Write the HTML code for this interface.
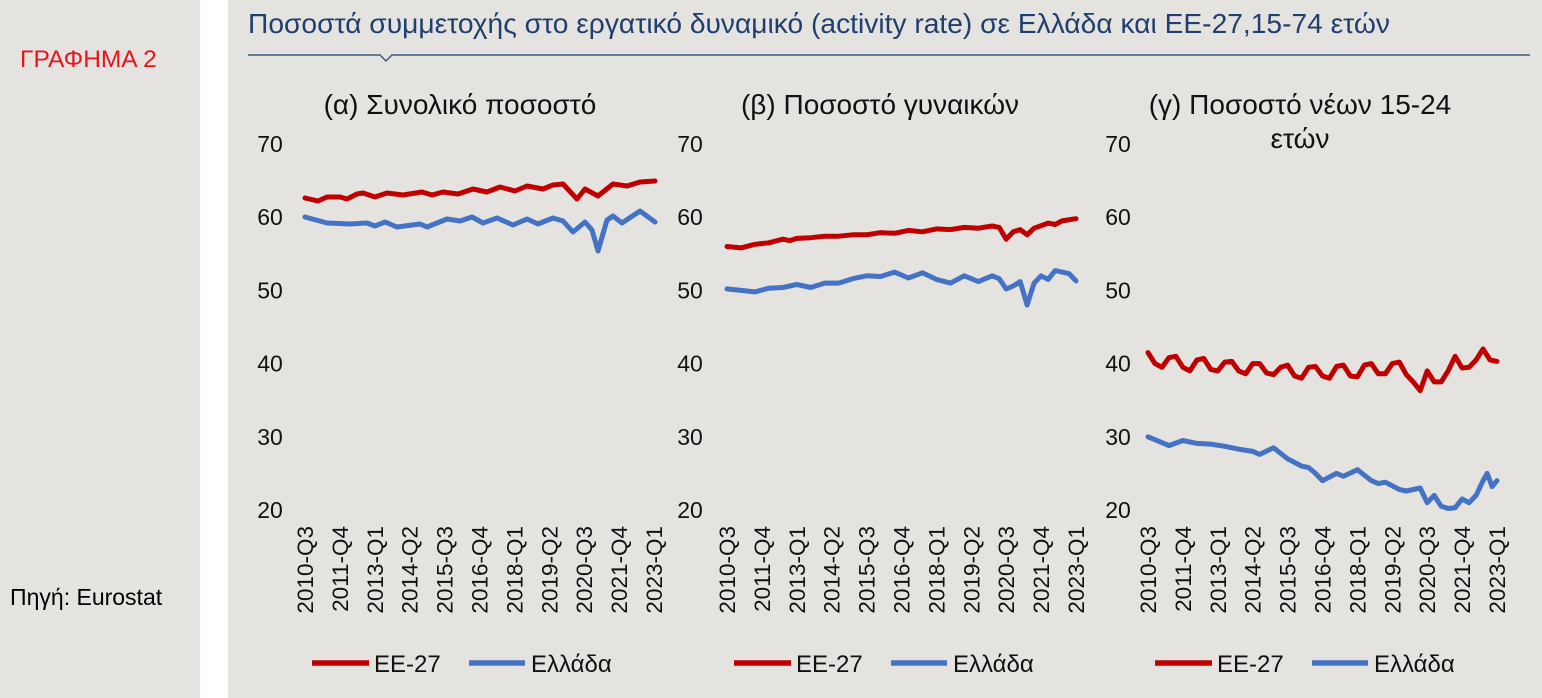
<!DOCTYPE html>
<html><head><meta charset="utf-8"><style>
body{margin:0;width:1542px;height:698px;background:#fff;overflow:hidden}
svg{display:block}
text{font-family:"Liberation Sans",sans-serif}
</style></head><body>
<svg id="s" width="1542" height="698" xmlns="http://www.w3.org/2000/svg">
<rect x="0" y="0" width="200" height="698" fill="#e5e3df"/>
<rect x="228" y="0" width="1314" height="698" fill="#e5e3df"/>
<text x="20" y="67" font-size="24.5" fill="#e8141b">ΓΡΑΦΗΜΑ 2</text>
<text x="10" y="605" font-size="23" fill="#000">Πηγή: Eurostat</text>
<text x="248" y="33" font-size="27.5" fill="#1f3f6e" textLength="1142" lengthAdjust="spacingAndGlyphs">Ποσοστά συμμετοχής στο εργατικό δυναμικό (activity rate) σε Ελλάδα και ΕΕ-27,15-74 ετών</text>
<path d="M248 55 L380 55 L386 61 L392 55 L1530 55" stroke="#3c5a80" stroke-width="1.5" fill="none"/>
<g font-size="28" fill="#111" text-anchor="middle">
<text x="460" y="114">(α) Συνολικό ποσοστό</text>
<text x="880" y="114">(β) Ποσοστό γυναικών</text>
<text x="1300" y="114">(γ) Ποσοστό νέων 15-24</text>
<text x="1300" y="148">ετών</text>
</g>
<g id="g"></g>
</svg>
<script>
var g=document.getElementById('g'),h='';
var X0=[305,727,1148],YL=[270,690,1118];
function Y(v){return 144+(70-v)*7.32;}
for(var p=0;p<3;p++){
 for(var k=0;k<6;k++){var v=70-k*10;h+='<text x="'+YL[p]+'" y="'+(Y(v)+8)+'" font-size="23" fill="#111" text-anchor="middle">'+v+'</text>';}
 var labs=['2010-Q3','2011-Q4','2013-Q1','2014-Q2','2015-Q3','2016-Q4','2018-Q1','2019-Q2','2020-Q3','2021-Q4','2023-Q1'];
 for(var i=0;i<11;i++){var x=X0[p]+i*34.9+8;h+='<text transform="translate('+x+',526) rotate(-90)" font-size="22.5" fill="#111" text-anchor="end">'+labs[i]+'</text>';}
 var lx=X0[p]+7;
 h+='<line x1="'+lx+'" y1="663" x2="'+(lx+57)+'" y2="663" stroke="#c00000" stroke-width="5.5"/>';
 h+='<text x="'+(lx+62)+'" y="672" font-size="24" fill="#111">EE-27</text>';
 h+='<line x1="'+(lx+157)+'" y1="663" x2="'+(lx+213)+'" y2="663" stroke="#4472c4" stroke-width="5.5"/>';
 h+='<text x="'+(lx+219)+'" y="672" font-size="24" fill="#111">Ελλάδα</text>';
}
function pl(pts,c){return '<polyline points="'+pts+'" fill="none" stroke="'+c+'" stroke-width="5" stroke-linejoin="round" stroke-linecap="round"/>';}
function ser(p,d,c){var s=d.map(function(a){return (X0[p]+a[0]*6.98).toFixed(1)+','+Y(a[1]).toFixed(1)}).join(' ');return pl(s,c);}
h+=pl('305,198 318,201 327,197 340,197 347,199 357,194 363,193 375,197 387,193 403,195 422,192 432,195 443,192 458,194 473,189 487,192 500,187 515,191 527,186 543,189 553,185 563,184 577,199 585,189 598,196 613,184 627,186 640,182 655,181','#c00000');
h+=pl('305,217 327,223 350,224 367,223 375,226 385,222 397,227 420,224 427,227 447,219 460,221 472,217 483,223 497,218 513,225 527,219 538,224 553,218 563,221 573,232 585,222 592,230 598,251 607,220 613,216 622,223 640,211 655,222','#4472c4');
h+=ser(1,[[0,56],[2,55.8],[4,56.3],[6,56.5],[8,57],[9,56.8],[10,57.1],[12,57.2],[14,57.4],[16,57.4],[18,57.6],[20,57.6],[22,57.9],[24,57.8],[26,58.2],[28,58],[30,58.4],[32,58.3],[34,58.6],[36,58.5],[38,58.8],[39,58.6],[40,57],[41,58],[42,58.3],[43,57.6],[44,58.5],[46,59.2],[47,59],[48,59.5],[50,59.8]],'#c00000');
h+=ser(1,[[0,50.2],[2,50],[4,49.8],[6,50.3],[8,50.4],[10,50.8],[12,50.4],[14,51],[16,51],[18,51.6],[20,52],[22,51.9],[24,52.5],[26,51.7],[28,52.4],[30,51.5],[32,51],[34,52],[36,51.2],[38,52],[39,51.6],[40,50.2],[41,50.6],[42,51.2],[43,48],[44,51],[45,52],[46,51.5],[47,52.7],[48,52.5],[49,52.3],[50,51.3]],'#4472c4');
h+=ser(2,[[0,41.5],[1,40],[2,39.5],[3,40.8],[4,41],[5,39.5],[6,39],[7,40.5],[8,40.7],[9,39.2],[10,39],[11,40.2],[12,40.3],[13,39],[14,38.6],[15,40],[16,40],[17,38.7],[18,38.5],[19,39.5],[20,39.8],[21,38.3],[22,38],[23,39.5],[24,39.6],[25,38.3],[26,38],[27,39.6],[28,39.8],[29,38.3],[30,38.2],[31,39.8],[32,40],[33,38.6],[34,38.6],[35,40],[36,40.2],[37,38.5],[38,37.5],[39,36.3],[40,39],[41,37.5],[42,37.5],[43,39],[44,41],[45,39.4],[46,39.5],[47,40.5],[48,42],[49,40.5],[50,40.3]],'#c00000');
h+=ser(2,[[0,30],[1,29.6],[3,28.8],[5,29.5],[7,29.1],[9,29],[11,28.7],[13,28.3],[15,28],[16,27.6],[18,28.5],[20,27],[22,26],[23,25.8],[24,25],[25,24],[27,25],[28,24.6],[30,25.5],[32,24],[33,23.6],[34,23.8],[36,22.8],[37,22.6],[39,23],[40,21],[41,22],[42,20.5],[43,20.2],[44,20.3],[45,21.5],[46,21],[47,22],[48,24],[48.6,25],[49.3,23.2],[50,24]],'#4472c4');
g.innerHTML=h;
</script>
</body></html>
